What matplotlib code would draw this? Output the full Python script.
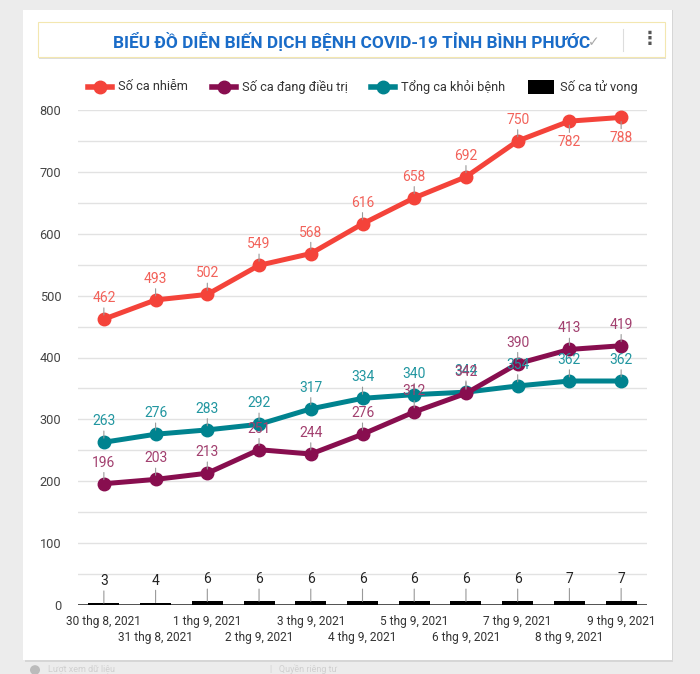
import matplotlib.pyplot as plt
from matplotlib.patches import Rectangle, Circle
from matplotlib.lines import Line2D

plt.rcParams['font.family'] = ['Roboto', 'DejaVu Sans']

dates = ['30 thg 8, 2021', '31 thg 8, 2021', '1 thg 9, 2021', '2 thg 9, 2021',
         '3 thg 9, 2021', '4 thg 9, 2021', '5 thg 9, 2021', '6 thg 9, 2021',
         '7 thg 9, 2021', '8 thg 9, 2021', '9 thg 9, 2021']
infected = [462, 493, 502, 549, 568, 616, 658, 692, 750, 782, 788]
treating = [196, 203, 213, 251, 244, 276, 312, 342, 390, 413, 419]
recovered = [263, 276, 283, 292, 317, 334, 340, 344, 354, 362, 362]
deaths = [3, 4, 6, 6, 6, 6, 6, 6, 6, 7, 7]

W, H = 700, 674
fig = plt.figure(figsize=(W / 100, H / 100), dpi=100)
fig.patch.set_facecolor('#ececec')

def fx(px):
    return px / W

def fy(py):
    return 1 - py / H

# card
fig.patches.append(Rectangle((fx(25), fy(662)), fx(648), 652 / H,
                             transform=fig.transFigure, facecolor='#d6d6d6', edgecolor='none', zorder=0))
fig.patches.append(Rectangle((fx(23), fy(660)), fx(649), 650 / H,
                             transform=fig.transFigure, facecolor='white', edgecolor='none', zorder=0))
# title box
fig.patches.append(Rectangle((fx(39), fy(59)), fx(627), 36 / H,
                             transform=fig.transFigure, facecolor='#dddddd', edgecolor='none', zorder=1))
fig.patches.append(Rectangle((fx(38), fy(57)), fx(627), 35 / H,
                             transform=fig.transFigure, facecolor='white', edgecolor='#f3e7b0', lw=0.8, zorder=1))
fig.text(fx(352), fy(41), 'BIỂU ĐỒ DIỄN BIẾN DỊCH BỆNH COVID-19 TỈNH BÌNH PHƯỚC',
         ha='center', va='center', fontsize=12.4, fontweight='bold', color='#1a6cc8', zorder=3)
fig.text(fx(594), fy(42), '✓', ha='center', va='center', fontsize=10, color='#aaaaaa',
         family='DejaVu Sans', zorder=3)
fig.lines.append(Line2D([fx(623), fx(623)], [fy(29), fy(51)], transform=fig.transFigure,
                        color='#dddddd', lw=0.8, zorder=3))
fig.text(fx(650), fy(39), '⋮', ha='center', va='center', fontsize=13, color='#555555',
         family='DejaVu Sans', fontweight='bold', zorder=3)

c_inf, c_trt, c_rec = '#f4433a', '#880e4f', '#00838f'
l_inf, l_trt, l_rec = '#f2625a', '#a2406f', '#2196a0'

# legend
leg = [(100, 'Số ca nhiễm', c_inf), (224, 'Số ca đang điều trị', c_trt), (383, 'Tổng ca khỏi bệnh', c_rec)]
for x0, txt, col in leg:
    fig.lines.append(Line2D([fx(x0 - 12), fx(x0 + 12)], [fy(87), fy(87)], transform=fig.transFigure,
                            color=col, lw=4, zorder=3))
    fig.lines.append(Line2D([fx(x0)], [fy(87)], transform=fig.transFigure,
                            color=col, marker='o', markersize=9, zorder=3))
    fig.text(fx(x0 + 18), fy(87), txt, ha='left', va='center', fontsize=9.2, color='#333333')
fig.patches.append(Rectangle((fx(528), fy(94)), fx(26), 14 / H, transform=fig.transFigure,
                             facecolor='black', edgecolor='none', zorder=3))
fig.text(fx(560), fy(87), 'Số ca tử vong', ha='left', va='center', fontsize=9.2, color='#333333')

ax = fig.add_axes([fx(78), fy(605), fx(647 - 78), (605 - 110) / H])
ax.set_zorder(5)
ax.set_facecolor('none')
x = list(range(len(dates)))
ax.set_xlim(-0.5, 10.5)
ax.set_ylim(0, 800)
for v in range(50, 801, 50):
    ax.axhline(v, color='#e2e2e2', lw=1, zorder=0)
ax.axhline(0, color='#333333', lw=1.2, zorder=1)
for s in ax.spines.values():
    s.set_visible(False)
ax.set_yticks(range(0, 801, 100))
ax.tick_params(axis='y', length=0, labelsize=9.2, labelcolor='#444444', pad=12)
ax.set_xticks([])

ax.bar(x, deaths, width=0.6, color='black', zorder=2)
for xi, d in zip(x, deaths):
    ax.annotate(str(d), (xi, d), xytext=(0, 15), textcoords='offset pixels', ha='center', va='bottom',
                fontsize=10, color='#222222',
                arrowprops=dict(arrowstyle='-', color='#999999', lw=0.8, shrinkA=0, shrinkB=0))

for vals, col, lcol in [(recovered, c_rec, l_rec), (treating, c_trt, l_trt), (infected, c_inf, l_inf)]:
    ax.plot(x, vals, color=col, lw=3.6, marker='o', markersize=9, zorder=4, clip_on=False)
    for xi, v in zip(x, vals):
        below = v > 770
        ax.annotate(str(v), (xi, v), xytext=(0, -14 if below else 14), textcoords='offset pixels',
                    ha='center', va='top' if below else 'bottom',
                    fontsize=10, color=lcol, zorder=5,
                    arrowprops=dict(arrowstyle='-', color='#999999', lw=0.8, shrinkA=0, shrinkB=3))

for i, d in enumerate(dates):
    off = 17 if i % 2 == 0 else 32
    ax.annotate(d, (i, 0), xytext=(0, -off), textcoords='offset pixels', ha='center', va='center',
                fontsize=8.6, color='#333333', annotation_clip=False)

# footer hint
fig.patches.append(Circle((fx(35), fy(670)), 5 / W, transform=fig.transFigure,
                          facecolor='#bbbbbb', edgecolor='none'))
fig.text(fx(48), fy(669), 'Lượt xem dữ liệu', fontsize=6.5, color='#d0d0d0', va='center')
fig.text(fx(270), fy(669), '|   Quyền riêng tư', fontsize=6.5, color='#d0d0d0', va='center')

fig.savefig('out.png', dpi=100, facecolor=fig.get_facecolor())
